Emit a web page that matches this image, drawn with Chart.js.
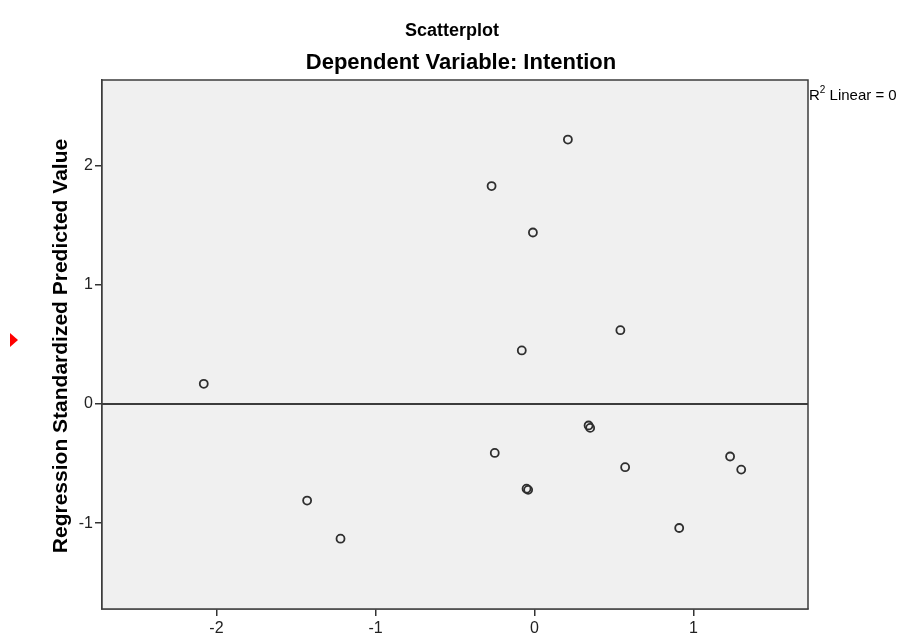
<!DOCTYPE html>
<html>
<head>
<meta charset="utf-8">
<script src="https://cdn.jsdelivr.net/npm/chart.js@4/dist/chart.umd.min.js"></script>
<style>
  body { margin: 0; background: #fff; }
  canvas { display: block; }
</style>
</head>
<body>
<canvas id="scatterChart" width="902" height="639"></canvas>
<script>
// Standardized residual (x) vs standardized predicted value (y)
const stdResidual  = [-2.08, -1.43, -1.22, -0.27, 0.21, -0.01, -0.08, 0.54, -0.25, -0.05, -0.04, 0.34, 0.35, 0.57, 1.23, 1.30, 0.91];
const stdPredicted = [0.17, -0.81, -1.13, 1.83, 2.22, 1.44, 0.45, 0.62, -0.41, -0.71, -0.72, -0.18, -0.20, -0.53, -0.44, -0.55, -1.04];

// Axis ranges
const xRange = [-2.72, 1.72];
const yRange = [-1.72, 2.72];

// Linear fit (R² = 0)
const fitIntercept = 0;
const fitSlope = 0;
const fitLabel = 'Linear = 0';

const chartTitle = 'Scatterplot';
const chartSubtitle = 'Dependent Variable: Intention';
const yAxisTitle = 'Regression Standardized Predicted Value';

const FONT = '"Liberation Sans", Arial, sans-serif';

const points = stdResidual.map((x, i) => ({ x: x, y: stdPredicted[i] }));
const fitLine = xRange.map(x => ({ x: x, y: fitIntercept + fitSlope * x }));

// Panel background, frame and the text around the plot
const spssFrame = {
    id: 'spssFrame',
    beforeDatasetsDraw(chart) {
        const { ctx, chartArea: a } = chart;
        ctx.save();
        ctx.fillStyle = '#f0f0f0';
        ctx.fillRect(a.left, a.top, a.right - a.left, a.bottom - a.top);
        ctx.restore();
    },
    afterDraw(chart) {
        const { ctx, chartArea: a } = chart;
        ctx.save();
        ctx.strokeStyle = '#3c3c3c';
        ctx.lineWidth = 1.5;
        ctx.strokeRect(a.left, a.top, a.right - a.left, a.bottom - a.top);

        ctx.fillStyle = '#000';
        ctx.textAlign = 'center';
        ctx.textBaseline = 'alphabetic';
        ctx.font = 'bold 18px ' + FONT;
        ctx.fillText(chartTitle, 452, 36);
        ctx.font = 'bold 22px ' + FONT;
        ctx.fillText(chartSubtitle, 461, 69);

        // rotated y axis title
        ctx.save();
        ctx.translate(67, 346);
        ctx.rotate(-Math.PI / 2);
        ctx.font = 'bold 21px ' + FONT;
        ctx.fillText(yAxisTitle, 0, 0);
        ctx.restore();

        // R² label for the fit line
        ctx.textAlign = 'left';
        ctx.font = '15px ' + FONT;
        let x = a.right + 1;
        ctx.fillText('R', x, 100);
        x += ctx.measureText('R').width;
        ctx.font = '10px ' + FONT;
        ctx.fillText('2', x, 93);
        x += ctx.measureText('2').width;
        ctx.font = '15px ' + FONT;
        ctx.fillText(' ' + fitLabel, x, 100);

        // small red marker at the left margin
        ctx.fillStyle = '#ff0000';
        ctx.beginPath();
        ctx.moveTo(10, 333);
        ctx.lineTo(18, 340);
        ctx.lineTo(10, 347);
        ctx.closePath();
        ctx.fill();
        ctx.restore();
    }
};

new Chart(document.getElementById('scatterChart'), {
    type: 'scatter',
    data: {
        datasets: [
            {
                label: 'Observed',
                data: points,
                pointStyle: 'circle',
                pointRadius: 4,
                pointHoverRadius: 4,
                borderWidth: 1.8,
                borderColor: '#2e2e2e',
                backgroundColor: 'rgba(0,0,0,0)',
                order: 0
            },
            {
                type: 'line',
                label: 'Fit',
                data: fitLine,
                borderColor: '#000',
                borderWidth: 1.5,
                pointRadius: 0,
                fill: false,
                order: 1
            }
        ]
    },
    options: {
        responsive: false,
        animation: false,
        layout: { padding: { left: 0, right: 94, top: 80, bottom: 0 } },
        plugins: {
            legend: { display: false },
            tooltip: { enabled: false }
        },
        scales: {
            x: {
                type: 'linear',
                min: xRange[0],
                max: xRange[1],
                afterFit: s => { s.height = 30; },
                grid: { drawOnChartArea: false, tickLength: 7, color: '#333', lineWidth: 1.5 },
                border: { display: true, color: '#3c3c3c', width: 1.5 },
                ticks: { stepSize: 1, includeBounds: false, color: '#222', padding: 3, maxRotation: 0, font: { family: FONT, size: 16 } }
            },
            y: {
                type: 'linear',
                min: yRange[0],
                max: yRange[1],
                afterFit: s => { s.width = 102; },
                grid: { drawOnChartArea: false, tickLength: 7, color: '#333', lineWidth: 1.5 },
                border: { display: true, color: '#3c3c3c', width: 1.5 },
                ticks: { stepSize: 1, includeBounds: false, color: '#222', padding: 2, font: { family: FONT, size: 16 } }
            }
        }
    },
    plugins: [spssFrame]
});
</script>
</body>
</html>
